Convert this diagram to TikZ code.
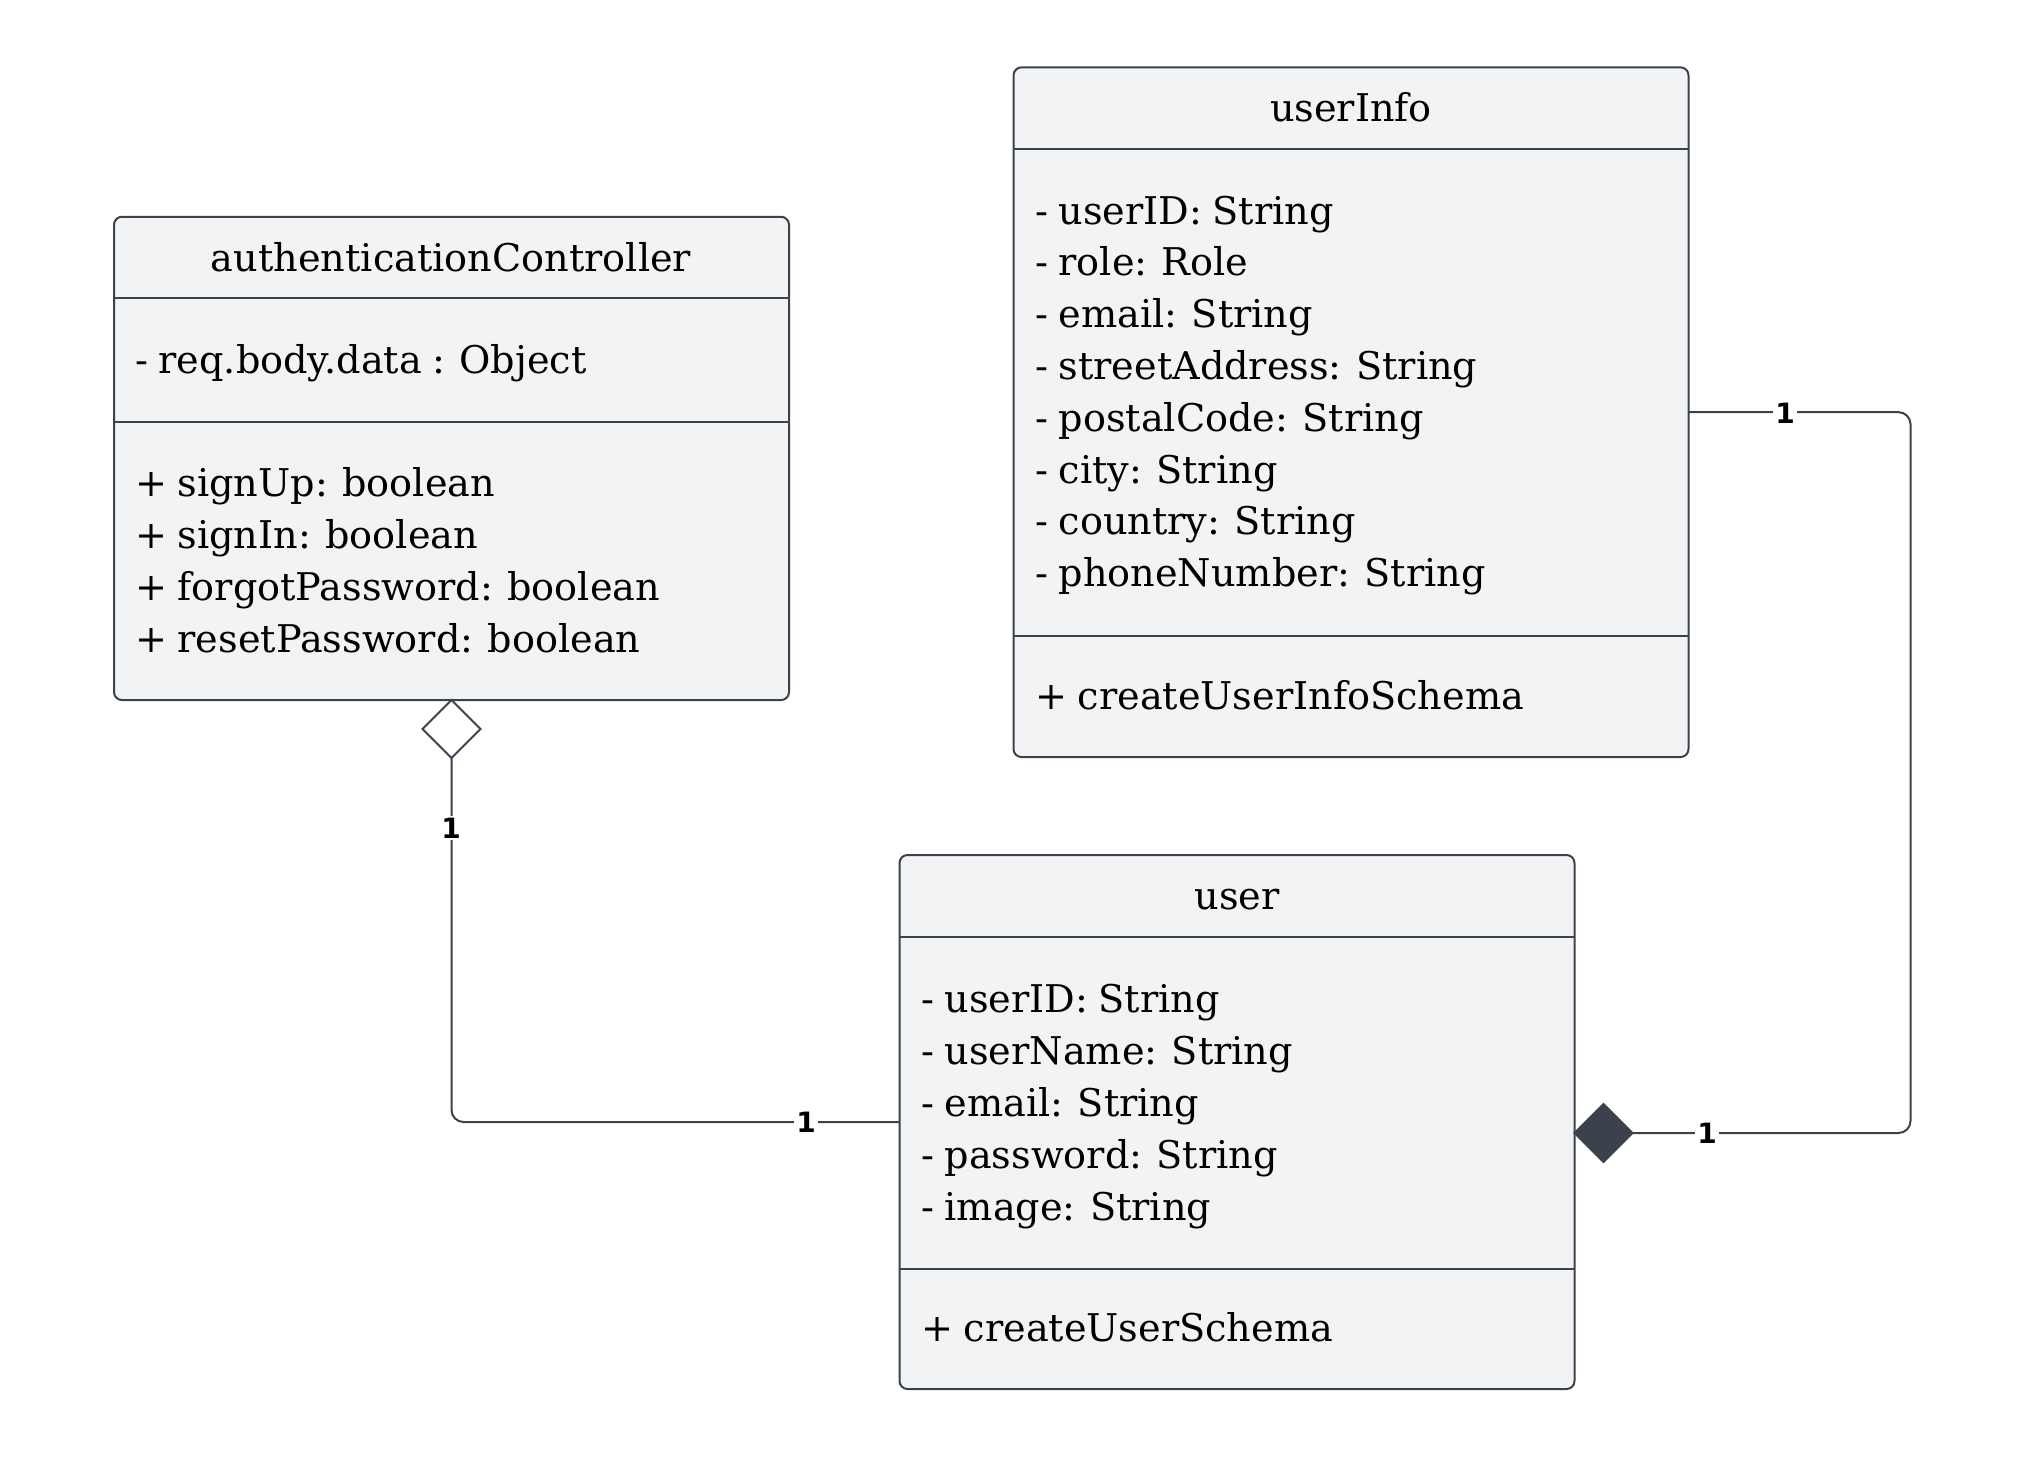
\documentclass[tikz,border=0pt]{standalone}
\usepackage{fontspec}
\setmainfont{DejaVu Serif}[WordSpace=0.85]
\newfontfamily\multfont{DejaVu Sans}[BoldFont={DejaVu Sans Bold}]
\usetikzlibrary{shapes.geometric}
\definecolor{boxfill}{HTML}{F2F3F5}
\definecolor{boxline}{HTML}{3C424C}
\tikzset{
  classbox/.style={draw=boxline, fill=boxfill, line width=1pt, rounded corners=4pt,
    minimum width=337.5pt, inner sep=0pt, outer sep=0pt},
  sepline/.style={draw=boxline, line width=1pt},
  txt/.style={anchor=base west, inner sep=0pt, font=\fontsize{19.1}{24}\selectfont, text=black},
  ttl/.style={anchor=base, inner sep=0pt, font=\fontsize{19.1}{24}\selectfont, text=black},
  conn/.style={draw=boxline, line width=1pt, rounded corners=6pt},
  mult/.style={fill=white, inner sep=1pt, font=\multfont\bfseries\fontsize{14}{16}\selectfont, text=black},
  aggdiamond/.style={diamond, draw=boxline, fill=white, line width=1pt, minimum width=29pt,
    minimum height=29pt, inner sep=0pt, outer sep=0pt},
  compdiamond/.style={diamond, draw=boxline, fill=boxline, line width=1pt, minimum width=29pt,
    minimum height=29pt, inner sep=0pt, outer sep=0pt}
}
\begin{document}
\begin{tikzpicture}[x=0.5pt, y=-0.5pt]
\useasboundingbox (0,0) rectangle (2023,1483);
\fill[white] (0,0) rectangle (2023,1483);

% authenticationController
\node[classbox, minimum height=241.65pt] (auth) at (451.5,458.4) {};
\draw[sepline] (113,298.4) -- (788,298.4);
\draw[sepline] (113,422.4) -- (788,422.4);
\node[ttl] (authT) at (451,271) {authenticationController};
\node[txt] (authA1) at (135,373.4) {- req.body.data : Object};
\node[txt] (authM1) at (135,496) {+ signUp: boolean};
\node[txt] (authM2) at (135,548) {+ signIn: boolean};
\node[txt] (authM3) at (135,600) {+ forgotPassword: boolean};
\node[txt] (authM4) at (135,652) {+ resetPassword: boolean};

% userInfo
\node[classbox, minimum height=344.85pt] (info) at (1351,412.2) {};
\draw[sepline] (1013,149) -- (1689,149);
\draw[sepline] (1013,636) -- (1689,636);
\node[ttl] (infoT) at (1351,121.7) {userInfo};
\node[txt] (infoA1) at (1035,224) {- userID: String};
\node[txt] (infoA2) at (1035,275.8) {- role: Role};
\node[txt] (infoA3) at (1035,327.6) {- email: String};
\node[txt] (infoA4) at (1035,379.4) {- streetAddress: String};
\node[txt] (infoA5) at (1035,431.2) {- postalCode: String};
\node[txt] (infoA6) at (1035,483) {- city: String};
\node[txt] (infoA7) at (1035,534.8) {- country: String};
\node[txt] (infoA8) at (1035,586.6) {- phoneNumber: String};
\node[txt] (infoM1) at (1035,709.7) {+ createUserInfoSchema};

% user
\node[classbox, minimum height=267pt] (user) at (1237,1122) {};
\draw[sepline] (899,937) -- (1575,937);
\draw[sepline] (899,1268.5) -- (1575,1268.5);
\node[ttl] (userT) at (1237,909.4) {user};
\node[txt] (userA1) at (921,1012) {- userID: String};
\node[txt] (userA2) at (921,1064) {- userName: String};
\node[txt] (userA3) at (921,1116) {- email: String};
\node[txt] (userA4) at (921,1168) {- password: String};
\node[txt] (userA5) at (921,1220) {- image: String};
\node[txt] (userM1) at (921,1341.7) {+ createUserSchema};

% aggregation: authenticationController <>-- user
\node[aggdiamond, anchor=north] (agg) at (auth.south) {};
\draw[conn] (agg.south) |- (user.west);
\node[mult] (m1) at (451,828) {1};
\node[mult] (m2) at (806,1122) {1};

% composition: user <*>-- userInfo
\node[compdiamond, anchor=west] (comp) at ([yshift=-5.5pt]user.east) {};
\draw[conn] (info.east) -- ++(222,0) |- (comp.east);
\node[mult] (m3) at (1785,413) {1};
\node[mult] (m4) at (1707,1133.5) {1};
\end{tikzpicture}
\end{document}
